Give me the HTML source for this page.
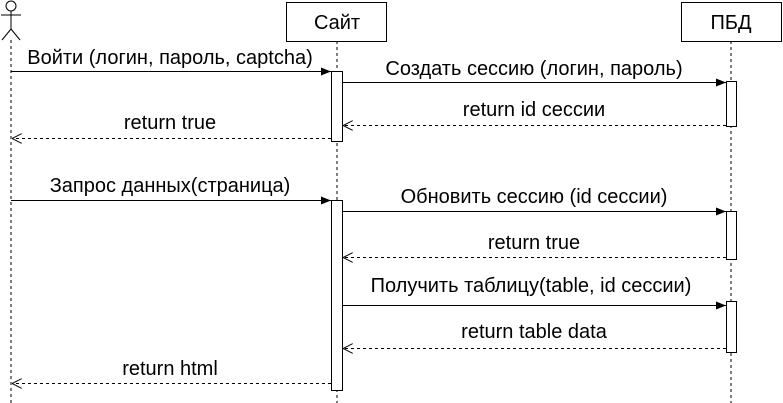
<!DOCTYPE html>
<html><head><style>body{margin:0;background:#fff}svg{display:block}text{font-family:"Liberation Sans","DejaVu Sans",sans-serif;fill:#000}</style></head>
<body>
<svg width="783" height="403" viewBox="0 0 783 403">
<defs>
<marker id="f" markerWidth="10" markerHeight="8" refX="10" refY="4" orient="auto" markerUnits="userSpaceOnUse"><path d="M0,0 L10,4 L0,8 Z" fill="#000"/></marker>
<marker id="o" markerWidth="10" markerHeight="10" refX="10" refY="5" orient="auto" markerUnits="userSpaceOnUse"><path d="M0,0 L10,5 L0,10" fill="none" stroke="#000"/></marker>
</defs>
<g stroke="#000" fill="none">
<circle cx="11" cy="6" r="5"/>
<line x1="11" y1="11" x2="11" y2="29"/>
<line x1="1" y1="15" x2="21" y2="15"/>
<line x1="11" y1="29" x2="2" y2="40"/>
<line x1="11" y1="29" x2="20" y2="40"/>
<line x1="11" y1="40" x2="11" y2="403" stroke-dasharray="3,3"/>
<line x1="337" y1="41" x2="337" y2="403" stroke-dasharray="3,3"/>
<line x1="731" y1="41" x2="731" y2="403" stroke-dasharray="3,3"/>
<rect x="286.5" y="2.5" width="100" height="39" fill="#fff"/>
<rect x="681.5" y="2.5" width="100" height="39" fill="#fff"/>
<rect x="331.5" y="71.5" width="11" height="70" fill="#fff"/>
<rect x="726.5" y="81.5" width="10" height="45" fill="#fff"/>
<rect x="331.5" y="200.5" width="11" height="190" fill="#fff"/>
<rect x="726.5" y="211.5" width="10" height="48" fill="#fff"/>
<rect x="726.5" y="301.5" width="10" height="51" fill="#fff"/>
<line x1="11" y1="71.5" x2="331" y2="71.5" marker-end="url(#f)"/>
<line x1="342" y1="82.5" x2="726" y2="82.5" marker-end="url(#f)"/>
<line x1="726" y1="125.5" x2="343" y2="125.5" stroke-dasharray="3,3" marker-end="url(#o)"/>
<line x1="331" y1="138.5" x2="12" y2="138.5" stroke-dasharray="3,3" marker-end="url(#o)"/>
<line x1="11" y1="200.5" x2="331" y2="200.5" marker-end="url(#f)"/>
<line x1="342" y1="211.5" x2="726" y2="211.5" marker-end="url(#f)"/>
<line x1="726" y1="257.5" x2="343" y2="257.5" stroke-dasharray="3,3" marker-end="url(#o)"/>
<line x1="342" y1="305.5" x2="726" y2="305.5" marker-end="url(#f)"/>
<line x1="726" y1="348.5" x2="343" y2="348.5" stroke-dasharray="3,3" marker-end="url(#o)"/>
<line x1="331" y1="383.5" x2="12" y2="383.5" stroke-dasharray="3,3" marker-end="url(#o)"/>
</g>
<g text-anchor="middle" font-size="20">
<text x="337" y="29">Сайт</text>
<text x="731" y="29">ПБД</text>
<text x="170" y="64">Войти (логин, пароль, captcha)</text>
<text x="534" y="75">Создать сессию (логин, пароль)</text>
<text x="534" y="116">return id сессии</text>
<text x="170" y="129">return true</text>
<text x="170" y="192">Запрос данных(страница)</text>
<text x="534" y="203">Обновить сессию (id сессии)</text>
<text x="534" y="249">return true</text>
<text x="531" y="292">Получить таблицу(table, id сессии)</text>
<text x="534" y="338">return table data</text>
<text x="170" y="375">return html</text>
</g>
</svg>
</body></html>
